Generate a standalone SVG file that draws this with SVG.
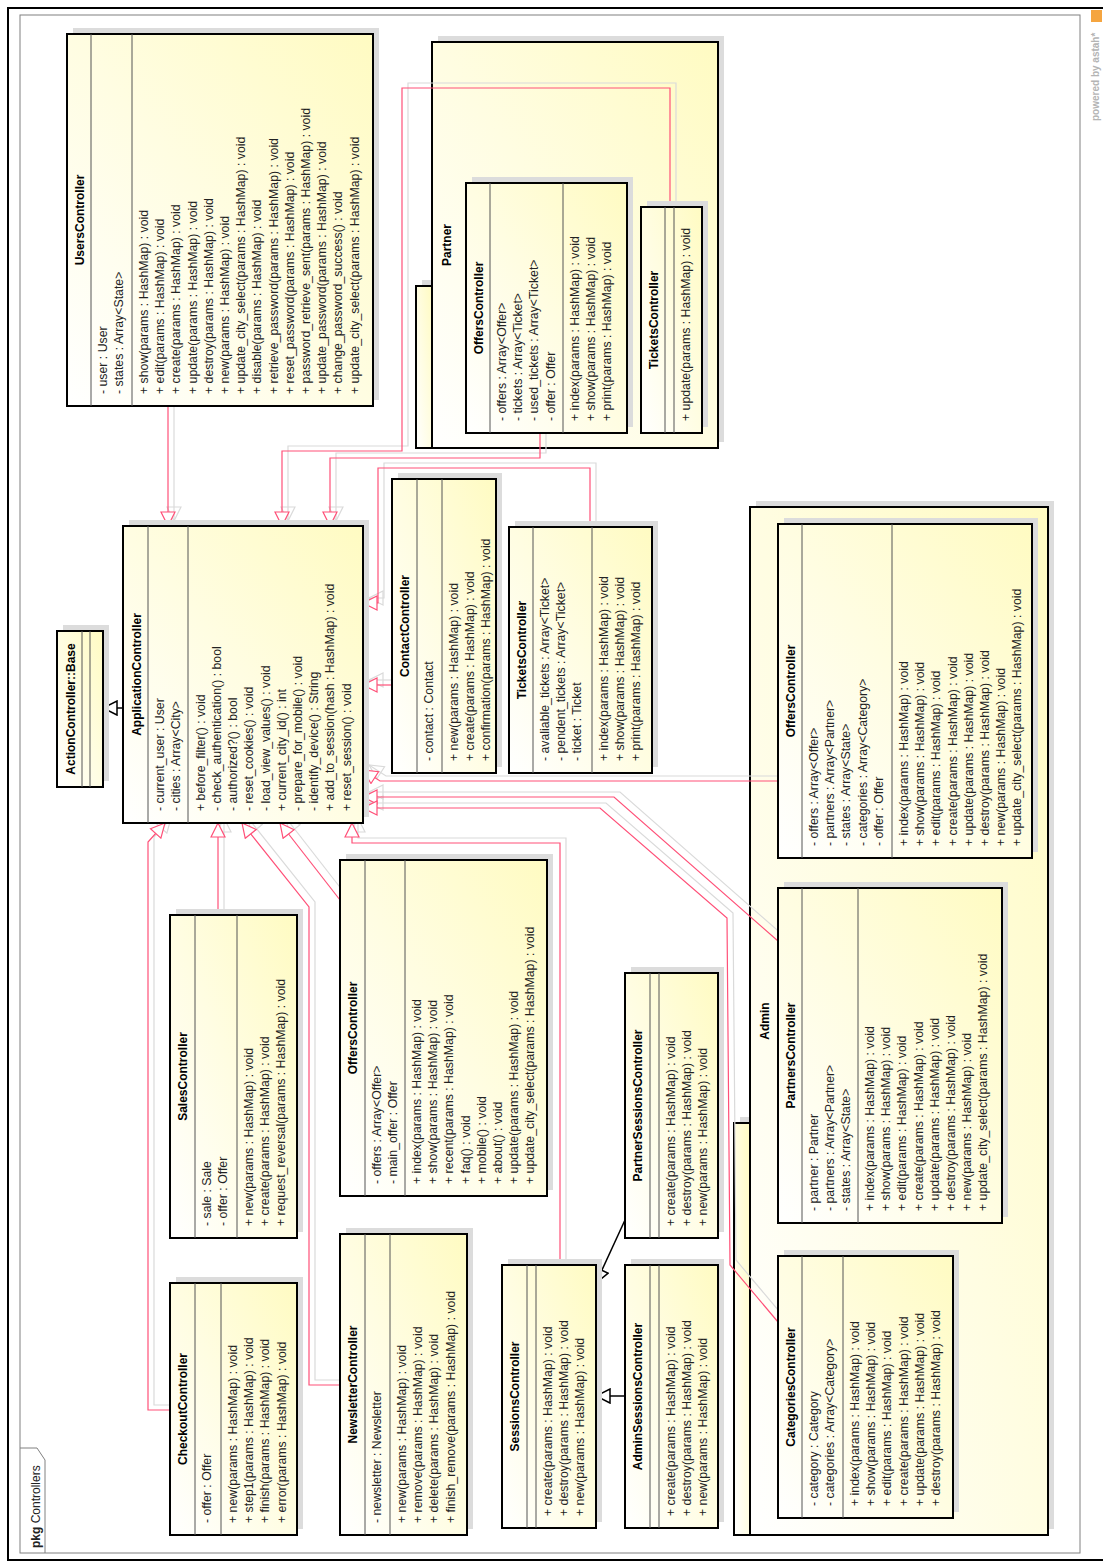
<svg xmlns="http://www.w3.org/2000/svg" width="1103" height="1564" viewBox="0 0 1103 1564">
<style>
.box{fill:url(#g);stroke:#000;stroke-width:2}
.pkg{fill:url(#g);stroke:#000;stroke-width:2}
.sh{fill:#dcdcdc}
.cl{stroke:#555;stroke-width:1}
.n{font:bold 12px "Liberation Sans",Arial,sans-serif;text-anchor:middle;fill:#000}
.m{font:12.3px "Liberation Sans",Arial,sans-serif;fill:#222}
.pl{fill:none;stroke:#ff5078;stroke-width:1.2;marker-end:url(#tp)}
.sl{fill:none;stroke:#dadada;stroke-width:1.2;marker-end:url(#ts)}
.bl{fill:none;stroke:#000;stroke-width:1.5;marker-end:url(#tb)}
</style>
<defs>
<linearGradient id="g" x1="0" y1="0" x2="1" y2="1">
<stop offset="0" stop-color="#ffffff"/>
<stop offset="0.5" stop-color="#fffde2"/>
<stop offset="1" stop-color="#fffbc2"/>
</linearGradient>
<marker id="tp" viewBox="0 0 16 16" refX="15" refY="8" markerWidth="16" markerHeight="16" markerUnits="userSpaceOnUse" orient="auto"><path d="M1,1 L15,8 L1,15 z" fill="#fff" stroke="#ff5078" stroke-width="1.2"/></marker>
<marker id="ts" viewBox="0 0 16 16" refX="15" refY="8" markerWidth="16" markerHeight="16" markerUnits="userSpaceOnUse" orient="auto"><path d="M1,1 L15,8 L1,15 z" fill="none" stroke="#dadada" stroke-width="1.2"/></marker>
<marker id="tb" viewBox="0 0 16 16" refX="15" refY="8" markerWidth="16" markerHeight="16" markerUnits="userSpaceOnUse" orient="auto"><path d="M1,1 L15,8 L1,15 z" fill="#fff" stroke="#000" stroke-width="1.5"/></marker>
</defs>
<rect x="0" y="0" width="1103" height="1564" fill="#fff"/>
<g transform="translate(0,1564) rotate(-90)">
<rect x="4" y="8" width="1552" height="1102" fill="none" stroke="#000" stroke-width="2"/>
<g id="frame">
<rect x="11" y="20" width="1538" height="1060" fill="none" stroke="#808080" stroke-width="1"/>
<polyline points="116,20 116,37 104,45 11,45" fill="none" stroke="#808080" stroke-width="1"/>
<text x="16" y="40" style="font:12px 'Liberation Sans',Arial,sans-serif;fill:#222"><tspan font-weight="bold">pkg</tspan> Controllers</text>
</g>
<g id="watermark">
<text x="1443" y="1099" style="font:bold 10px 'Liberation Sans',Arial,sans-serif;fill:#b4b4b4">powered by astah*</text>
<rect x="1542" y="1091" width="12" height="11" fill="#f5a540"/>
</g>

<g id="PartnerPackage">
<rect class="sh" x="1122" y="422" width="162" height="16"/>
<rect class="sh" x="1122" y="438" width="406" height="286"/>
<rect class="pkg" x="1116" y="416" width="162" height="16"/>
<rect class="pkg" x="1116" y="432" width="406" height="286"/>
<text class="n" x="1319" y="451">Partner</text>
</g>
<g id="AdminPackage">
<rect class="sh" x="35" y="740" width="412" height="16"/>
<rect class="sh" x="35" y="756" width="1028" height="298"/>
<rect class="pkg" x="29" y="734" width="412" height="16"/>
<rect class="pkg" x="29" y="750" width="1028" height="298"/>
<text class="n" x="543" y="769">Admin</text>
</g>

<g id="connectors">
<polyline class="sl" points="1163,174 1043,174"/>
<polyline class="sl" points="1362,676 1481,676 1481,408 1118,408 1118,288 1043,288"/>
<polyline class="sl" points="1136,546 1111,546 1111,336 1043,336"/>
<polyline class="sl" points="1042,596 1101,596 1101,384 966,384 966,369"/>
<polyline class="sl" points="884,398 884,369"/>
<polyline class="sl" points="788,784 788,386 799,369"/>
<polyline class="sl" points="628,784 772,620 772,369"/>
<polyline class="sl" points="247,784 304,736 651,733 761,606 761,369"/>
<polyline class="sl" points="159,176 159,154 727,154 746,171"/>
<polyline class="sl" points="654,224 746,224"/>
<polyline class="sl" points="184,346 184,315 662,315 746,248"/>
<polyline class="sl" points="669,346 746,286"/>
<polyline class="sl" points="304,566 726,566 726,358 746,358"/>
<polyline class="pl" points="1158,168 1038,168"/>
<polyline class="pl" points="1357,670 1476,670 1476,402 1113,402 1113,282 1038,282"/>
<polyline class="pl" points="1131,540 1106,540 1106,330 1038,330"/>
<polyline class="pl" points="1037,590 1096,590 1096,378 961,378 961,363"/>
<polyline class="pl" points="879,392 879,363"/>
<polyline class="pl" points="783,778 783,380 794,363"/>
<polyline class="pl" points="623,778 767,614 767,363"/>
<polyline class="pl" points="242,778 299,730 646,727 756,600 756,363"/>
<polyline class="pl" points="154,170 154,148 722,148 741,165"/>
<polyline class="pl" points="649,218 741,218"/>
<polyline class="pl" points="179,340 179,309 657,309 741,242"/>
<polyline class="pl" points="664,340 741,280"/>
<polyline class="pl" points="299,560 721,560 721,352 741,352"/>
<polyline class="bl" points="856,123 856,103"/>
<polyline class="bl" points="344,625 281,596"/>
<polyline class="bl" points="168,625 168,596"/>
</g>

<g id="UsersController">
<rect class="sh" x="1164" y="73" width="372" height="306"/>
<rect class="box" x="1158" y="67" width="372" height="306"/>
<line class="cl" x1="1158" y1="91" x2="1530" y2="91"/>
<line class="cl" x1="1158" y1="132" x2="1530" y2="132"/>
<text class="n" x="1344" y="84">UsersController</text>
<text class="m"><tspan x="1170" y="107">- user : User</tspan><tspan x="1170" y="123">- states : Array&lt;State&gt;</tspan>
<tspan x="1170" y="148">+ show(params : HashMap) : void</tspan><tspan x="1170" y="164">+ edit(params : HashMap) : void</tspan><tspan x="1170" y="180">+ create(params : HashMap) : void</tspan><tspan x="1170" y="197">+ update(params : HashMap) : void</tspan><tspan x="1170" y="213">+ destroy(params : HashMap) : void</tspan><tspan x="1170" y="229">+ new(params : HashMap) : void</tspan><tspan x="1170" y="245">+ update_city_select(params : HashMap) : void</tspan><tspan x="1170" y="261">+ disable(params : HashMap) : void</tspan><tspan x="1170" y="278">+ retrieve_password(params : HashMap) : void</tspan><tspan x="1170" y="294">+ reset_password(params : HashMap) : void</tspan><tspan x="1170" y="310">+ password_retrieve_sent(params : HashMap) : void</tspan><tspan x="1170" y="326">+ update_password(params : HashMap) : void</tspan><tspan x="1170" y="342">+ change_password_success() : void</tspan><tspan x="1170" y="359">+ update_city_select(params : HashMap) : void</tspan></text>
</g>

<g id="ActionControllerBase">
<rect class="sh" x="783" y="63" width="156" height="46"/>
<rect class="box" x="777" y="57" width="156" height="46"/>
<line class="cl" x1="777" y1="82" x2="933" y2="82"/>
<line class="cl" x1="777" y1="90" x2="933" y2="90"/>
<text class="n" x="855" y="75">ActionController::Base</text>
</g>

<g id="ApplicationController">
<rect class="sh" x="747" y="129" width="297" height="240"/>
<rect class="box" x="741" y="123" width="297" height="240"/>
<line class="cl" x1="741" y1="148" x2="1038" y2="148"/>
<line class="cl" x1="741" y1="188" x2="1038" y2="188"/>
<text class="n" x="889.5" y="141">ApplicationController</text>
<text class="m"><tspan x="753" y="164">- current_user : User</tspan><tspan x="753" y="180">- cities : Array&lt;City&gt;</tspan>
<tspan x="753" y="205">+ before_filter() : void</tspan><tspan x="753" y="221">- check_authentication() : bool</tspan><tspan x="753" y="237">- authorized?() : bool</tspan><tspan x="753" y="253">- reset_cookies() : void</tspan><tspan x="753" y="270">- load_view_values() : void</tspan><tspan x="753" y="286">+ current_city_id() : int</tspan><tspan x="753" y="302">- prepare_for_mobile() : void</tspan><tspan x="753" y="318">- identify_device() : String</tspan><tspan x="753" y="334">+ add_to_session(hash : HashMap) : void</tspan><tspan x="753" y="351">+ reset_session() : void</tspan></text>
</g>

<g id="PartnerOffersController">
<rect class="sh" x="1137" y="472" width="250" height="161"/>
<rect class="box" x="1131" y="466" width="250" height="161"/>
<line class="cl" x1="1131" y1="490" x2="1381" y2="490"/>
<line class="cl" x1="1131" y1="563" x2="1381" y2="563"/>
<text class="n" x="1256" y="483">OffersController</text>
<text class="m"><tspan x="1143" y="506">- offers : Array&lt;Offer&gt;</tspan><tspan x="1143" y="522">- tickets : Array&lt;Ticket&gt;</tspan><tspan x="1143" y="538">- used_tickets : Array&lt;Ticket&gt;</tspan><tspan x="1143" y="555">- offer : Offer</tspan>
<tspan x="1143" y="579">+ index(params : HashMap) : void</tspan><tspan x="1143" y="595">+ show(params : HashMap) : void</tspan><tspan x="1143" y="611">+ print(params : HashMap) : void</tspan></text>
</g>

<g id="PartnerTicketsController">
<rect class="sh" x="1137" y="647" width="226" height="61"/>
<rect class="box" x="1131" y="641" width="226" height="61"/>
<line class="cl" x1="1131" y1="665" x2="1357" y2="665"/>
<line class="cl" x1="1131" y1="674" x2="1357" y2="674"/>
<text class="n" x="1244" y="658">TicketsController</text>
<text class="m"><tspan x="1143" y="690">+ update(params : HashMap) : void</tspan></text>
</g>

<g id="ContactController">
<rect class="sh" x="797" y="398" width="294" height="104"/>
<rect class="box" x="791" y="392" width="294" height="104"/>
<line class="cl" x1="791" y1="417" x2="1085" y2="417"/>
<line class="cl" x1="791" y1="442" x2="1085" y2="442"/>
<text class="n" x="938" y="409">ContactController</text>
<text class="m"><tspan x="803" y="433">- contact : Contact</tspan>
<tspan x="803" y="458">+ new(params : HashMap) : void</tspan><tspan x="803" y="474">+ create(params : HashMap) : void</tspan><tspan x="803" y="490">+ confirmation(params : HashMap) : void</tspan></text>
</g>

<g id="TicketsController">
<rect class="sh" x="797" y="515" width="246" height="143"/>
<rect class="box" x="791" y="509" width="246" height="143"/>
<line class="cl" x1="791" y1="533" x2="1037" y2="533"/>
<line class="cl" x1="791" y1="592" x2="1037" y2="592"/>
<text class="n" x="914" y="526">TicketsController</text>
<text class="m"><tspan x="803" y="549">- avaliable_tickets : Array&lt;Ticket&gt;</tspan><tspan x="803" y="565">- pendent_tickets : Array&lt;Ticket&gt;</tspan><tspan x="803" y="581">- ticket : Ticket</tspan>
<tspan x="803" y="608">+ index(params : HashMap) : void</tspan><tspan x="803" y="624">+ show(params : HashMap) : void</tspan><tspan x="803" y="640">+ print(params : HashMap) : void</tspan></text>
</g>

<g id="AdminOffersController">
<rect class="sh" x="712" y="784" width="334" height="254"/>
<rect class="box" x="706" y="778" width="334" height="254"/>
<line class="cl" x1="706" y1="802" x2="1040" y2="802"/>
<line class="cl" x1="706" y1="892" x2="1040" y2="892"/>
<text class="n" x="873" y="795">OffersController</text>
<text class="m"><tspan x="718" y="818">- offers : Array&lt;Offer&gt;</tspan><tspan x="718" y="834">- partners : Array&lt;Partner&gt;</tspan><tspan x="718" y="850">- states : Array&lt;State&gt;</tspan><tspan x="718" y="867">- categories : Array&lt;Category&gt;</tspan><tspan x="718" y="883">- offer : Offer</tspan>
<tspan x="718" y="908">+ index(params : HashMap) : void</tspan><tspan x="718" y="924">+ show(params : HashMap) : void</tspan><tspan x="718" y="940">+ edit(params : HashMap) : void</tspan><tspan x="718" y="957">+ create(params : HashMap) : void</tspan><tspan x="718" y="973">+ update(params : HashMap) : void</tspan><tspan x="718" y="989">+ destroy(params : HashMap) : void</tspan><tspan x="718" y="1005">+ new(params : HashMap) : void</tspan><tspan x="718" y="1021">+ update_city_select(params : HashMap) : void</tspan></text>
</g>

<g id="PartnersController">
<rect class="sh" x="347" y="784" width="335" height="224"/>
<rect class="box" x="341" y="778" width="335" height="224"/>
<line class="cl" x1="341" y1="802" x2="676" y2="802"/>
<line class="cl" x1="341" y1="858" x2="676" y2="858"/>
<text class="n" x="508.5" y="795">PartnersController</text>
<text class="m"><tspan x="353" y="818">- partner : Partner</tspan><tspan x="353" y="834">- partners : Array&lt;Partner&gt;</tspan><tspan x="353" y="850">- states : Array&lt;State&gt;</tspan>
<tspan x="353" y="874">+ index(params : HashMap) : void</tspan><tspan x="353" y="890">+ show(params : HashMap) : void</tspan><tspan x="353" y="906">+ edit(params : HashMap) : void</tspan><tspan x="353" y="923">+ create(params : HashMap) : void</tspan><tspan x="353" y="939">+ update(params : HashMap) : void</tspan><tspan x="353" y="955">+ destroy(params : HashMap) : void</tspan><tspan x="353" y="971">+ new(params : HashMap) : void</tspan><tspan x="353" y="987">+ update_city_select(params : HashMap) : void</tspan></text>
</g>

<g id="CategoriesController">
<rect class="sh" x="52" y="784" width="262" height="175"/>
<rect class="box" x="46" y="778" width="262" height="175"/>
<line class="cl" x1="46" y1="802" x2="308" y2="802"/>
<line class="cl" x1="46" y1="843" x2="308" y2="843"/>
<text class="n" x="177" y="795">CategoriesController</text>
<text class="m"><tspan x="58" y="818">- category : Category</tspan><tspan x="58" y="834">- categories : Array&lt;Category&gt;</tspan>
<tspan x="58" y="859">+ index(params : HashMap) : void</tspan><tspan x="58" y="875">+ show(params : HashMap) : void</tspan><tspan x="58" y="891">+ edit(params : HashMap) : void</tspan><tspan x="58" y="908">+ create(params : HashMap) : void</tspan><tspan x="58" y="924">+ update(params : HashMap) : void</tspan><tspan x="58" y="940">+ destroy(params : HashMap) : void</tspan></text>
</g>

<g id="SalesController">
<rect class="sh" x="332" y="176" width="323" height="127"/>
<rect class="box" x="326" y="170" width="323" height="127"/>
<line class="cl" x1="326" y1="195" x2="649" y2="195"/>
<line class="cl" x1="326" y1="237" x2="649" y2="237"/>
<text class="n" x="487.5" y="187">SalesController</text>
<text class="m"><tspan x="338" y="211">- sale : Sale</tspan><tspan x="338" y="227">- offer : Offer</tspan>
<tspan x="338" y="253">+ new(params : HashMap) : void</tspan><tspan x="338" y="269">+ create(params : HashMap) : void</tspan><tspan x="338" y="285">+ request_reversal(params : HashMap) : void</tspan></text>
</g>

<g id="OffersController">
<rect class="sh" x="374" y="346" width="336" height="207"/>
<rect class="box" x="368" y="340" width="336" height="207"/>
<line class="cl" x1="368" y1="365" x2="704" y2="365"/>
<line class="cl" x1="368" y1="405" x2="704" y2="405"/>
<text class="n" x="536" y="357">OffersController</text>
<text class="m"><tspan x="380" y="381">- offers : Array&lt;Offer&gt;</tspan><tspan x="380" y="397">- main_offer : Offer</tspan>
<tspan x="380" y="421">+ index(params : HashMap) : void</tspan><tspan x="380" y="437">+ show(params : HashMap) : void</tspan><tspan x="380" y="453">+ recent(params : HashMap) : void</tspan><tspan x="380" y="470">+ faq() : void</tspan><tspan x="380" y="486">+ mobile() : void</tspan><tspan x="380" y="502">+ about() : void</tspan><tspan x="380" y="518">+ update(params : HashMap) : void</tspan><tspan x="380" y="534">+ update_city_select(params : HashMap) : void</tspan></text>
</g>

<g id="CheckoutController">
<rect class="sh" x="35" y="176" width="252" height="127"/>
<rect class="box" x="29" y="170" width="252" height="127"/>
<line class="cl" x1="29" y1="195" x2="281" y2="195"/>
<line class="cl" x1="29" y1="221" x2="281" y2="221"/>
<text class="n" x="155" y="187">CheckoutController</text>
<text class="m"><tspan x="41" y="211">- offer : Offer</tspan>
<tspan x="41" y="237">+ new(params : HashMap) : void</tspan><tspan x="41" y="253">+ step1(params : HashMap) : void</tspan><tspan x="41" y="269">+ finish(params : HashMap) : void</tspan><tspan x="41" y="286">+ error(params : HashMap) : void</tspan></text>
</g>

<g id="NewsletterController">
<rect class="sh" x="35" y="346" width="301" height="127"/>
<rect class="box" x="29" y="340" width="301" height="127"/>
<line class="cl" x1="29" y1="365" x2="330" y2="365"/>
<line class="cl" x1="29" y1="390" x2="330" y2="390"/>
<text class="n" x="179.5" y="357">NewsletterController</text>
<text class="m"><tspan x="41" y="381">- newsletter : Newsletter</tspan>
<tspan x="41" y="406">+ new(params : HashMap) : void</tspan><tspan x="41" y="422">+ remove(params : HashMap) : void</tspan><tspan x="41" y="438">+ delete(params : HashMap) : void</tspan><tspan x="41" y="455">+ finish_remove(params : HashMap) : void</tspan></text>
</g>

<g id="SessionsController">
<rect class="sh" x="42" y="508" width="263" height="94"/>
<rect class="box" x="36" y="502" width="263" height="94"/>
<line class="cl" x1="36" y1="527" x2="299" y2="527"/>
<line class="cl" x1="36" y1="536" x2="299" y2="536"/>
<text class="n" x="167.5" y="519">SessionsController</text>
<text class="m"><tspan x="48" y="552">+ create(params : HashMap) : void</tspan><tspan x="48" y="568">+ destroy(params : HashMap) : void</tspan><tspan x="48" y="584">+ new(params : HashMap) : void</tspan></text>
</g>

<g id="PartnerSessionsController">
<rect class="sh" x="332" y="631" width="265" height="93"/>
<rect class="box" x="326" y="625" width="265" height="93"/>
<line class="cl" x1="326" y1="650" x2="591" y2="650"/>
<line class="cl" x1="326" y1="659" x2="591" y2="659"/>
<text class="n" x="458.5" y="642">PartnerSessionsController</text>
<text class="m"><tspan x="338" y="675">+ create(params : HashMap) : void</tspan><tspan x="338" y="691">+ destroy(params : HashMap) : void</tspan><tspan x="338" y="707">+ new(params : HashMap) : void</tspan></text>
</g>

<g id="AdminSessionsController">
<rect class="sh" x="42" y="631" width="263" height="93"/>
<rect class="box" x="36" y="625" width="263" height="93"/>
<line class="cl" x1="36" y1="650" x2="299" y2="650"/>
<line class="cl" x1="36" y1="659" x2="299" y2="659"/>
<text class="n" x="167.5" y="642">AdminSessionsController</text>
<text class="m"><tspan x="48" y="675">+ create(params : HashMap) : void</tspan><tspan x="48" y="691">+ destroy(params : HashMap) : void</tspan><tspan x="48" y="707">+ new(params : HashMap) : void</tspan></text>
</g>
</g>
</svg>
